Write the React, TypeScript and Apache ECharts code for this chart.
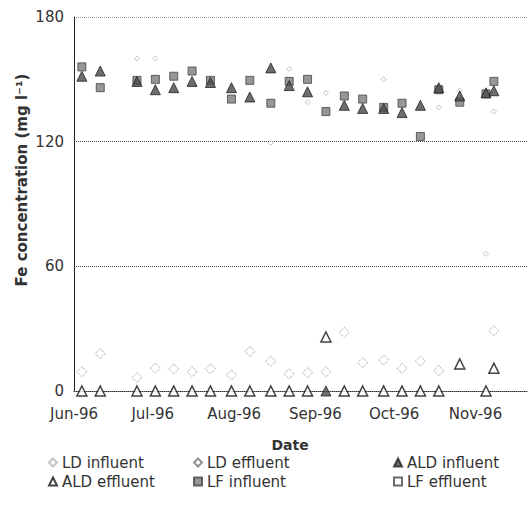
import React, { useEffect, useRef } from "react";
import * as echarts from "echarts";

const sampleDates = [
  "1996-06-04", "1996-06-11", "1996-06-25", "1996-07-02", "1996-07-09", "1996-07-16",
  "1996-07-23", "1996-07-31", "1996-08-07", "1996-08-15", "1996-08-22", "1996-08-29",
  "1996-09-05", "1996-09-12", "1996-09-19", "1996-09-27", "1996-10-04", "1996-10-11",
  "1996-10-18", "1996-10-26", "1996-11-05", "1996-11-08",
];

const ldInfluent = [null, null, 160, 160, null, null, null, null, null, 119.5, 155, 139, 143.5, null, null, 150, null, null, 136.5, 144.5, 66, 134.5];
const ldEffluent = [9.3, 18, 6.5, 11, 10.6, 9.3, 10.6, 7.7, 19, 14.3, 8.2, 8.8, 9.3, 28.2, 13.6, 14.9, 10.9, 14.4, 9.8, null, null, 29];
const aldInfluent = [151.5, 154, 149, 145, 146, 149, 148.5, 146, 141.5, 155.5, 147, 144, 0, 137.5, 136, 136, 134, 137.5, 146, 142, 143.5, 144.5];
const aldEffluent = [0, 0, 0, 0, 0, 0, 0, 0, 0, 0, 0, 0, 26, 0, 0, 0, 0, 0, 0, 13, 0, 11];
const lfInfluent = [156, 146, 149.5, 150, 151.5, 154, 149.5, 140.5, 149.5, 138.5, 149, 150, 134.5, 142, 140.5, 136.5, 138.5, 122.5, 145, 139, 143, 149];
const lfEffluent: (number | null)[] = [null, null, null, null, null, null, null, null, null, null, null, null, null, null, null, null, null, null, null, null, null, null];

const monthTicks = ["1996-06-01", "1996-07-01", "1996-08-01", "1996-09-01", "1996-10-01", "1996-11-01"];
const monthLabels = ["Jun-96", "Jul-96", "Aug-96", "Sep-96", "Oct-96", "Nov-96"];
const xStart = "1996-06-01";
const xEnd = "1996-11-21";

const FONT = "DejaVu Sans";
const DAY = 86400000;

const toDay = (s: string) =>
  Math.round((new Date(s + "T00:00:00Z").getTime() - new Date(xStart + "T00:00:00Z").getTime()) / DAY);
const pairs = (vals: (number | null)[]) =>
  sampleDates.map((d, i) => [toDay(d), vals[i]]).filter((p) => p[1] !== null);

export default function App() {
  const ref = useRef<HTMLDivElement>(null);
  useEffect(() => {
    if (!ref.current) return;
    const chart = echarts.init(ref.current, null, { renderer: "svg" });
    const tickDays = monthTicks.map(toDay);
    const legendText = { fontFamily: FONT, fontSize: 15, color: "#333" };
    const mkLegend = (name: string, left: number, top: number) => ({
      data: [name], left, top, itemWidth: 8, itemHeight: 8, itemGap: 5,
      textStyle: legendText, padding: 0, selectedMode: false,
    });
    const option: any = {
      animation: false,
      backgroundColor: "#fff",
      grid: { left: 74, right: 0, top: 17, bottom: 117 },
      xAxis: {
        type: "value",
        min: 0,
        max: toDay(xEnd),
        axisLine: { onZero: false, lineStyle: { color: "#333", type: "dotted", width: 1 } },
        axisTick: { show: false },
        splitLine: { show: false },
        axisLabel: {
          customValues: tickDays,
          margin: 15,
          fontFamily: FONT,
          fontSize: 15,
          color: "#333",
          formatter: (v: number) => {
            const i = tickDays.indexOf(Math.round(v));
            return i >= 0 ? monthLabels[i] : "";
          },
        },
      },
      yAxis: {
        type: "value",
        min: 0,
        max: 180,
        interval: 60,
        axisLine: { show: true, onZero: false, lineStyle: { color: "#222", width: 1 } },
        axisTick: { show: false },
        axisLabel: {
          margin: 10,
          fontFamily: FONT,
          fontSize: 15,
          color: "#333",
        },
        splitLine: {
          show: true,
          lineStyle: { color: ["#444", "#444", "#444", "#999"], type: "dotted", width: 1 },
        },
      },
      legend: [
        mkLegend("LD influent", 48, 455),
        mkLegend("LD effluent", 193, 455),
        mkLegend("ALD influent", 393, 455),
        mkLegend("ALD effluent", 48, 474),
        mkLegend("LF influent", 193, 474),
        mkLegend("LF effluent", 393, 474),
      ],
      graphic: [
        {
          type: "text", x: 22, y: 180, rotation: Math.PI / 2,
          style: {
            text: "Fe concentration (mg l⁻¹)", fontFamily: FONT, fontSize: 15,
            fontWeight: "bold", fill: "#333", textAlign: "center", textVerticalAlign: "middle",
          },
        },
        {
          type: "text", x: 290, y: 445,
          style: {
            text: "Date", fontFamily: FONT, fontSize: 14, fontWeight: "bold",
            fill: "#333", textAlign: "center", textVerticalAlign: "middle",
          },
        },
      ],
      series: [
        {
          name: "LD influent", type: "scatter", symbol: "diamond", symbolSize: 5, z: 2,
          itemStyle: { color: "#fff", borderColor: "#b5b5b5", borderWidth: 1 },
          data: pairs(ldInfluent),
        },
        {
          name: "LD effluent", type: "scatter", symbol: "diamond", symbolSize: 10, z: 2,
          itemStyle: { color: "#fff", borderColor: "#777", borderWidth: 1, borderType: "dotted" },
          data: pairs(ldEffluent),
        },
        {
          name: "LF influent", type: "scatter", symbol: "rect", symbolSize: 8, z: 3,
          itemStyle: { color: "#7d7d7d", borderColor: "#444", borderWidth: 1 },
          data: pairs(lfInfluent),
        },
        {
          name: "LF effluent", type: "scatter", symbol: "rect", symbolSize: 7, z: 3,
          itemStyle: { color: "#fff", borderColor: "#444", borderWidth: 1 },
          data: pairs(lfEffluent),
        },
        {
          name: "ALD influent", type: "scatter", symbol: "triangle", symbolSize: 10, z: 4,
          itemStyle: { color: "#4a4a4a", borderColor: "#222", borderWidth: 1 },
          data: pairs(aldInfluent),
        },
        {
          name: "ALD effluent", type: "scatter", symbol: "triangle", symbolSize: 10, z: 5,
          itemStyle: { color: "#fff", borderColor: "#111", borderWidth: 1.5 },
          data: pairs(aldEffluent),
        },
      ],
    };
    chart.setOption(option);
    return () => chart.dispose();
  }, []);
  return <div ref={ref} style={{ width: 528, height: 508, position: "absolute", left: 0, top: 0 }} />;
}
